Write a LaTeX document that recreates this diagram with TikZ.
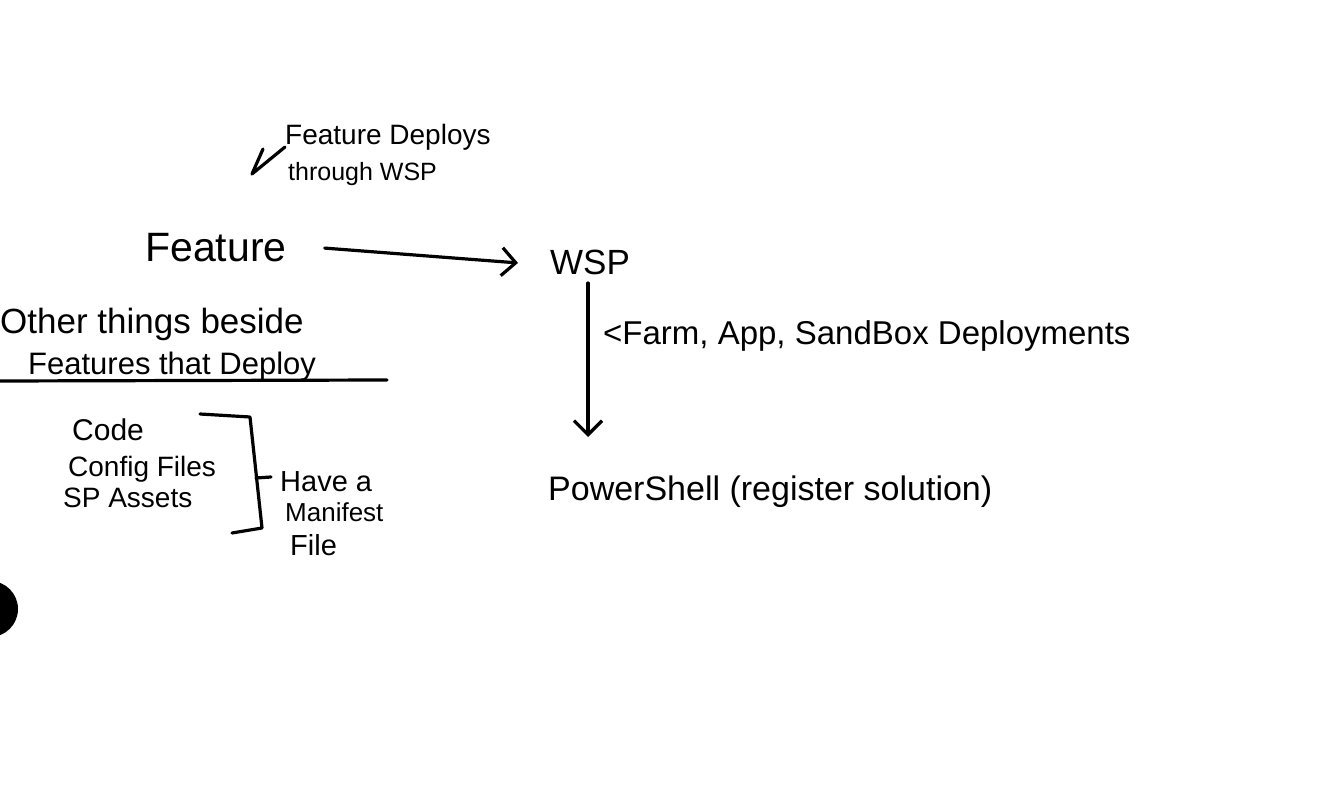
\documentclass[tikz,border=0pt]{standalone}
\usepackage{fontspec}
\setmainfont{Liberation Sans}
\usetikzlibrary{arrows.meta}
\begin{document}
\begin{tikzpicture}[x=1pt,y=-1pt,
  txt/.style={inner sep=0pt, anchor=base west, text=black},
  fs/.style={font=\fontsize{#1}{#1}\selectfont},
  stroke/.style={line width=3.2pt, line cap=round, line join=round},
  arr/.style={stroke, -{Straight Barb[length=14pt,width=28pt]}}]
\useasboundingbox[fill=white] (0,0) rectangle (1317,799);

% annotation with tick
\draw[stroke] (263,149) -- (252,174) -- (285,147);
\node[txt, fs=28] (ann1) at (285,145) {Feature Deploys};
\node[txt, fs=25] (ann2) at (288,181) {through WSP};

% main flow
\node[txt, fs=41] (feat) at (145,262) {Feature};
\node[txt, fs=35] (wsp) at (550,275) {WSP};
\draw[arr] ([xshift=38pt]feat.east) -- ([xshift=-32pt]wsp.west);

\coordinate (vtop) at (588,283);
\coordinate (vbot) at (588,437);
\draw[arr] (vtop) -- (vbot);
\node[txt, fs=33] (lab) at (603,345) {<Farm, App, SandBox Deployments};
\node[txt, fs=34] (ps) at (548,500) {PowerShell (register solution)};

% left notes
\node[txt, fs=35] (oth) at (0,334) {Other things beside};
\node[txt, fs=31] (fea) at (28,375) {Features that Deploy};
\draw[stroke] (0,381) -- (387,380);

\node[txt, fs=30] (code) at (72,440) {Code};
\node[txt, fs=28] (cfg) at (68,476) {Config Files};
\node[txt, fs=28] (spa) at (63,507) {SP Assets};
\draw[stroke] (200,414) -- (250,417) -- (262,528) -- (232,533);
\draw[stroke] (256,478) -- (271,477);
\node[txt, fs=29] (have) at (280,491) {Have a};
\node[txt, fs=26] (man) at (285,521) {Manifest};
\node[txt, fs=29] (file) at (290,555) {File};

% hole at left edge
\begin{scope}
\clip (0,0) rectangle (1317,799);
\fill[black] (-10,609) circle[radius=28pt];
\end{scope}
\end{tikzpicture}
\end{document}
